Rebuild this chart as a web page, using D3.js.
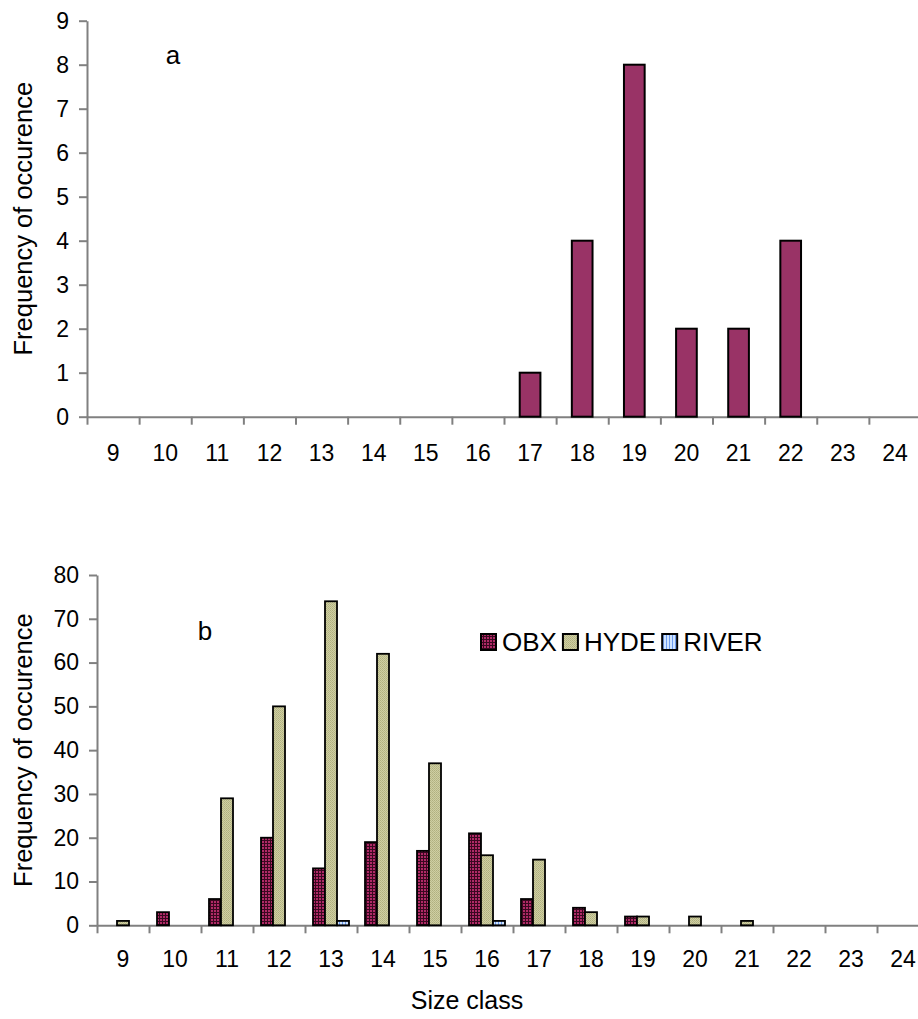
<!DOCTYPE html>
<html>
<head>
<meta charset="utf-8">
<script src="https://cdn.jsdelivr.net/npm/d3@7"></script>
<style>
  html, body { margin: 0; padding: 0; background: #fff; }
  svg { display: block; font-family: "Liberation Sans", Arial, sans-serif; }
</style>
</head>
<body>
<svg id="chart" width="918" height="1019"></svg>
<script>
// ---- Data ----
const sizeClasses = [9,10,11,12,13,14,15,16,17,18,19,20,21,22,23,24];
const panelAValues = [0,0,0,0,0,0,0,0,1,4,8,2,2,4,0,0];
const obxValues   = [0,3,6,20,13,19,17,21,6,4,2,0,0,0,0,0];
const hydeValues  = [1,0,29,50,74,62,37,16,15,3,2,2,1,0,0,0];
const riverValues = [0,0,0,0,1,0,0,1,0,0,0,0,0,0,0,0];
const seriesNames = ["OBX","HYDE","RIVER"];
const panelATicks = [0,1,2,3,4,5,6,7,8,9];
const panelBTicks = [0,10,20,30,40,50,60,70,80];
const yTitle = "Frequency of occurence";
const xTitle = "Size class";

const svg = d3.select("#chart");
const defs = svg.append("defs");

// Patterns
const pObx = defs.append("pattern").attr("id","pObx").attr("patternUnits","userSpaceOnUse").attr("width",3).attr("height",3);
pObx.append("rect").attr("width",3).attr("height",3).attr("fill","#b02a66");
pObx.append("rect").attr("width",3).attr("height",1).attr("fill","#3a0820");
pObx.append("rect").attr("width",1).attr("height",3).attr("fill","#3a0820");

const pHyde = defs.append("pattern").attr("id","pHyde").attr("patternUnits","userSpaceOnUse").attr("width",2).attr("height",2);
pHyde.append("rect").attr("width",2).attr("height",2).attr("fill","#cfcfa2");
pHyde.append("rect").attr("width",1).attr("height",1).attr("fill","#b0b080");
pHyde.append("rect").attr("x",1).attr("y",1).attr("width",1).attr("height",1).attr("fill","#b8b88a");

const pRiver = defs.append("pattern").attr("id","pRiver").attr("patternUnits","userSpaceOnUse").attr("width",3).attr("height",3);
pRiver.append("rect").attr("width",3).attr("height",3).attr("fill","#cfe4ff");
pRiver.append("rect").attr("width",1).attr("height",3).attr("fill","#6e9cf0");

const fills = ["url(#pObx)","url(#pHyde)","url(#pRiver)"];
const axisColor = "#808080";
const tickFont = "23px";

function styleAxis(g) {
  g.selectAll(".domain").attr("stroke", axisColor).attr("stroke-width", 2);
  g.selectAll(".tick line").attr("stroke", axisColor).attr("stroke-width", 2);
  g.selectAll(".tick text").attr("fill", "#000").style("font-size", tickFont);
}

// ---- Panel a ----
const aLeft = 87, aRight = 921, aTop = 20.7, aBottom = 416.7;
const xA = d3.scaleBand().domain(sizeClasses).range([aLeft, aRight]).paddingInner(0).paddingOuter(0);
const yA = d3.scaleLinear().domain([0, 9]).range([aBottom, aTop]);

const gAy = svg.append("g").attr("transform", `translate(${aLeft},0)`)
  .call(d3.axisLeft(yA).tickValues(panelATicks).tickSize(8).tickPadding(10).tickSizeOuter(0));
styleAxis(gAy);

const xAedge = d3.scaleLinear().domain([0, sizeClasses.length]).range([aLeft, aRight]);
const gAx = svg.append("g").attr("transform", `translate(0,${aBottom})`)
  .call(d3.axisBottom(xAedge).tickValues(d3.range(0, sizeClasses.length + 1)).tickSize(8).tickFormat("").tickSizeOuter(0));
styleAxis(gAx);
svg.append("g").selectAll("text").data(sizeClasses).join("text")
  .attr("x", d => xA(d) + xA.bandwidth() / 2)
  .attr("y", aBottom + 44)
  .attr("text-anchor", "middle").style("font-size", tickFont)
  .text(d => d);

const barWA = 20.7;
svg.append("g").selectAll("rect").data(sizeClasses.map((c, i) => ({c, v: panelAValues[i]})).filter(d => d.v > 0))
  .join("rect")
  .attr("x", d => xA(d.c) + xA.bandwidth() / 2 - barWA / 2)
  .attr("width", barWA)
  .attr("y", d => yA(d.v))
  .attr("height", d => yA(0) - yA(d.v))
  .attr("fill", "#993366").attr("stroke", "#000").attr("stroke-width", 2);

svg.append("text").attr("x", 173).attr("y", 64).attr("text-anchor", "middle").style("font-size", "26px").text("a");
svg.append("text").attr("transform", `translate(32,${(aTop + aBottom) / 2}) rotate(-90)`)
  .attr("text-anchor", "middle").style("font-size", "25.5px").text(yTitle);

// ---- Panel b ----
const bLeft = 97, bRight = 929, bTop = 575, bBottom = 925.3;
const xB = d3.scaleBand().domain(sizeClasses).range([bLeft, bRight]);
const yB = d3.scaleLinear().domain([0, 80]).range([bBottom, bTop]);

const gBy = svg.append("g").attr("transform", `translate(${bLeft},0)`)
  .call(d3.axisLeft(yB).tickValues(panelBTicks).tickSize(8).tickPadding(10).tickSizeOuter(0));
styleAxis(gBy);

const xBedge = d3.scaleLinear().domain([0, sizeClasses.length]).range([bLeft, bRight]);
const gBx = svg.append("g").attr("transform", `translate(0,${bBottom})`)
  .call(d3.axisBottom(xBedge).tickValues(d3.range(0, sizeClasses.length + 1)).tickSize(8).tickFormat("").tickSizeOuter(0));
styleAxis(gBx);
svg.append("g").selectAll("text").data(sizeClasses).join("text")
  .attr("x", d => xB(d) + xB.bandwidth() / 2)
  .attr("y", bBottom + 42)
  .attr("text-anchor", "middle").style("font-size", tickFont)
  .text(d => d);

const subW = 12;
const xSub = d3.scaleBand().domain(seriesNames).range([-1.5 * subW, 1.5 * subW]);
const seriesData = [obxValues, hydeValues, riverValues];
seriesNames.forEach((name, si) => {
  svg.append("g").selectAll("rect")
    .data(sizeClasses.map((c, i) => ({c, v: seriesData[si][i]})).filter(d => d.v > 0))
    .join("rect")
    .attr("x", d => xB(d.c) + xB.bandwidth() / 2 + xSub(name))
    .attr("width", xSub.bandwidth())
    .attr("y", d => yB(d.v))
    .attr("height", d => yB(0) - yB(d.v))
    .attr("fill", fills[si]).attr("stroke", "#000").attr("stroke-width", 1.8);
});

svg.append("text").attr("x", 205).attr("y", 640).attr("text-anchor", "middle").style("font-size", "26px").text("b");
svg.append("text").attr("transform", `translate(32,${(bTop + bBottom) / 2}) rotate(-90)`)
  .attr("text-anchor", "middle").style("font-size", "25.5px").text(yTitle);
svg.append("text").attr("x", 467).attr("y", 1009).attr("text-anchor", "middle").style("font-size", "25px").text(xTitle);

// Legend
const legend = svg.append("g");
let lx = 481;
const ly = 642;
seriesNames.forEach((name, si) => {
  legend.append("rect").attr("x", lx).attr("y", ly - 8).attr("width", 15).attr("height", 16)
    .attr("fill", fills[si]).attr("stroke", "#000").attr("stroke-width", 2);
  const t = legend.append("text").attr("x", lx + 21).attr("y", ly + 9).style("font-size", "26px").text(name);
  lx = lx + 21 + t.node().getComputedTextLength() + 6;
});
</script>
</body>
</html>
